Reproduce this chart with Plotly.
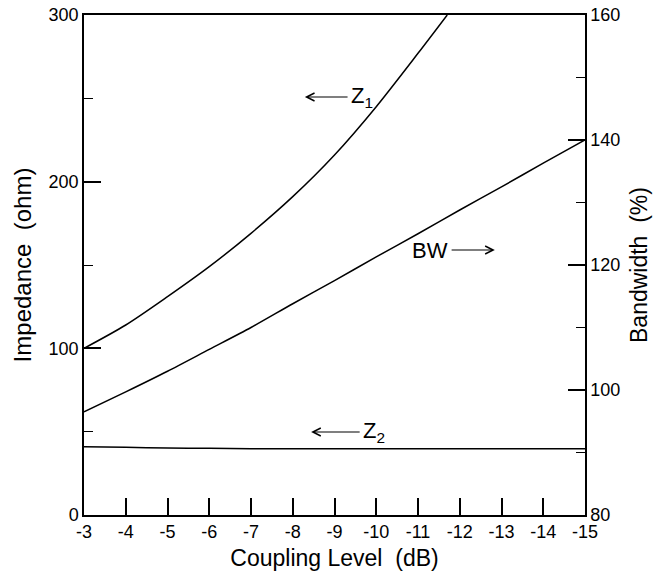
import plotly.graph_objects as go

coupling = [-3, -4, -5, -6, -7, -8, -9, -10, -11, -11.7]
z1 = [100, 114, 131, 149, 169, 191, 216, 245, 277, 300]

coupling_all = [-3, -4, -5, -6, -7, -8, -9, -10, -11, -12, -13, -14, -15]
z2 = [41, 40.6, 40.2, 40.0, 39.8, 39.7, 39.7, 39.7, 39.7, 39.7, 39.7, 39.7, 39.7]
bw = [96.5, 99.7, 103.0, 106.5, 110.0, 113.8, 117.5, 121.3, 125.0, 128.8, 132.5, 136.3, 140.0]

x_ticks = list(range(-3, -16, -1))
x_ticktext = [str(v) for v in x_ticks]

FONT = "Liberation Sans, Arial, sans-serif"
line = dict(color="black", width=1.5, shape="spline", smoothing=0.8)

fig = go.Figure()
fig.add_trace(go.Scatter(x=coupling, y=z1, mode="lines", line=line, showlegend=False))
fig.add_trace(go.Scatter(x=coupling_all, y=z2, mode="lines", line=line, showlegend=False))
fig.add_trace(go.Scatter(x=coupling_all, y=bw, mode="lines", line=line, yaxis="y2", showlegend=False))

afont = dict(family=FONT, size=22, color="black")
arrow = dict(showarrow=True, arrowhead=5, arrowsize=1.3, arrowwidth=1.2, arrowcolor="black",
             xref="x", yref="y", axref="x", ayref="y", font=afont, standoff=0, startstandoff=2)
ann = [
    dict(text="Z<sub>1</sub>", x=-8.29, y=250.8, ax=-9.66, ay=250.8, **arrow),
    dict(text="Z<sub>2</sub>", x=-8.44, y=49.8, ax=-9.95, ay=49.8, **arrow),
    dict(text="BW", x=-12.84, y=159, ax=-11.29, ay=159, **arrow),
]

tfont = dict(family=FONT, size=18, color="black")

fig.update_layout(
    width=659, height=579,
    margin=dict(l=84, r=74, t=15, b=64),
    paper_bgcolor="white", plot_bgcolor="white",
    font=dict(family=FONT, size=18, color="black"),
    annotations=ann,
    hovermode=False,
    xaxis=dict(range=[-3, -15], tickvals=x_ticks, ticktext=x_ticktext, ticks="inside", ticklen=17,
               tickwidth=1.5, tickcolor="black", showline=True, linecolor="black", linewidth=1.5,
               mirror=True, showgrid=False, zeroline=False, automargin=False, tickfont=tfont,
               ticklabeloverflow="allow",
               title=dict(text="Coupling Level  (dB)", font=dict(family=FONT, size=23, color="black"),
                          standoff=9)),
    yaxis=dict(range=[0, 300], tickvals=[0, 100, 200, 300], ticks="inside", ticklen=17,
               tickwidth=1.5, tickcolor="black", showline=True, linecolor="black", linewidth=1.5,
               showgrid=False, zeroline=False, automargin=False, tickfont=tfont,
               ticklabeloverflow="allow",
               minor=dict(dtick=50, tick0=0, ticks="inside", ticklen=9, tickwidth=1.2,
                          tickcolor="black", showgrid=False),
               title=dict(text="Impedance  (ohm)", font=dict(family=FONT, size=24, color="black"),
                          standoff=10)),
    yaxis2=dict(range=[80, 160], tickvals=[80, 100, 120, 140, 160], overlaying="y", side="right",
                ticks="inside", ticklen=17, tickwidth=1.5, tickcolor="black", showline=True,
                linecolor="black", linewidth=1.5, showgrid=False, zeroline=False, automargin=False,
                tickfont=tfont, ticklabeloverflow="allow",
                minor=dict(dtick=10, tick0=80, ticks="inside", ticklen=9, tickwidth=1.2,
                           tickcolor="black", showgrid=False),
                title=dict(text="Bandwidth  (%)", font=dict(family=FONT, size=23, color="black"),
                           standoff=12)),
)

fig.write_html("out.html", config={"displayModeBar": False},
               post_script="document.body.style.margin='0';")
